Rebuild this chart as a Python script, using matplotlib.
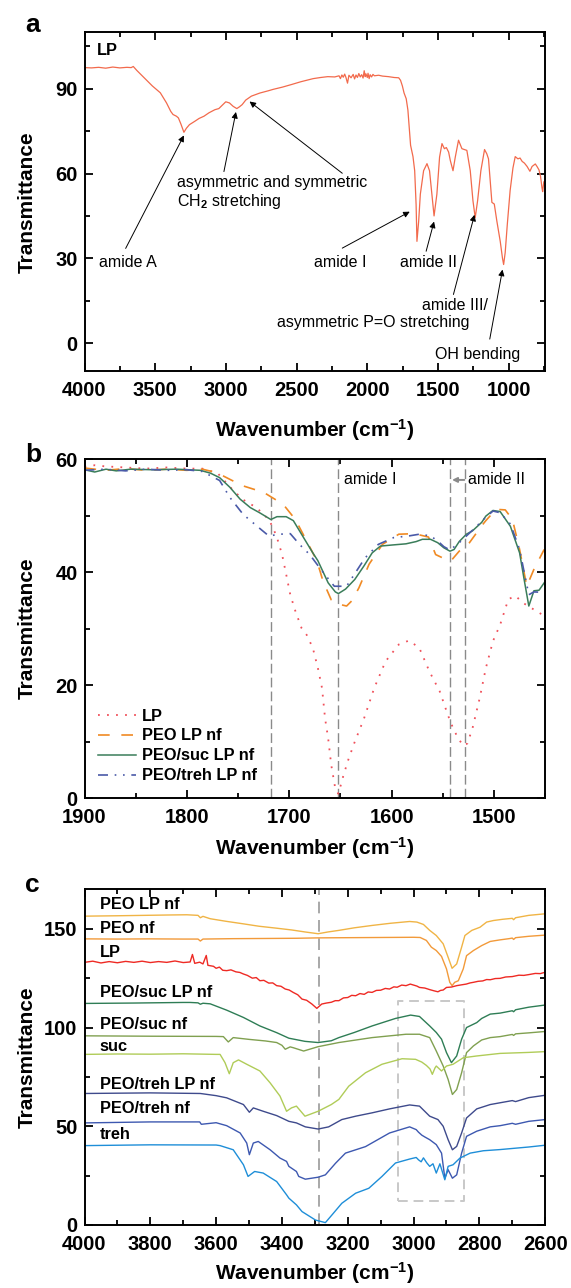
import matplotlib
matplotlib.use('Agg')
import matplotlib.pyplot as plt
from matplotlib.ticker import MultipleLocator

plt.rcParams['font.family'] = ['Liberation Sans', 'DejaVu Sans']
plt.rcParams['font.weight'] = 'bold'
plt.rcParams['mathtext.fontset'] = 'custom'
plt.rcParams['mathtext.rm'] = 'Liberation Sans'
plt.rcParams['mathtext.bf'] = 'Liberation Sans:bold'
plt.rcParams['mathtext.it'] = 'Liberation Sans:italic'

# ---------------- Panel a data: LP full spectrum ----------------
a_wn = [4000, 3950, 3900, 3850, 3800, 3750, 3700, 3670, 3655, 3630, 3600, 3567, 3520, 3464, 3420,
        3390, 3374, 3350, 3336, 3318, 3297, 3280, 3258, 3220, 3190, 3155, 3120, 3078, 3050, 3030,
        3001, 2975, 2949, 2923, 2905, 2885, 2860, 2820, 2760, 2700, 2666, 2600, 2537, 2470, 2383,
        2330, 2280, 2230, 2200, 2190, 2180, 2170, 2160, 2151, 2140, 2130, 2115, 2100, 2090, 2080,
        2070, 2060, 2050, 2040, 2030, 2022, 2015, 2010, 2000, 1995, 1987, 1980, 1970, 1960, 1950,
        1920, 1893, 1850, 1810, 1778, 1765, 1752, 1740, 1725, 1713, 1694, 1677, 1665,
        1655, 1649, 1637, 1625, 1602, 1578, 1560, 1543, 1528, 1508, 1489, 1472, 1455, 1441, 1425,
        1413, 1394, 1378, 1355, 1331, 1296, 1272, 1253, 1237, 1220, 1197, 1171, 1155, 1143, 1131,
        1119, 1102, 1084, 1060, 1044, 1036, 1025, 1010, 990, 970, 954, 935, 920, 905, 889, 870,
        850, 835, 812, 800, 786, 775, 765, 760, 752, 742]
a_t = [97.5, 97.4, 97.6, 97.3, 97.7, 97.4, 97.6, 97.5, 97.9, 96.5, 95.0, 93.3, 91.0, 88.6, 85.0,
       82.0, 80.9, 80.3, 79.7, 77.5, 74.6, 76.0, 77.3, 78.5, 79.5, 80.3, 81.5, 82.6, 83.0, 84.0,
       85.4, 85.0, 83.8, 83.0, 83.6, 84.4, 86.0, 87.4, 88.5, 89.3, 89.8, 90.6, 91.5, 92.5, 93.6,
       94.0, 94.3, 94.2, 94.6, 93.6, 94.9, 94.1, 95.2, 94.0, 92.0, 94.8, 93.9, 95.1, 93.5, 94.9,
       94.0, 95.4, 94.2, 95.0, 93.8, 96.4, 94.3, 95.3, 94.0, 95.5, 93.6, 95.0, 94.2, 95.1, 94.6,
       94.8, 94.5, 94.3, 94.0, 93.9, 93.0, 91.0, 88.5, 86.5, 82.5, 70.0, 66.0, 61.0,
       49.0, 36.0, 43.0, 52.7, 61.0, 63.5, 61.0, 52.7, 45.0, 52.7, 65.8, 70.6, 68.8, 69.2, 67.6,
       64.6, 61.0, 65.8, 71.8, 68.8, 68.2, 61.0, 50.4, 44.4, 50.4, 61.0, 68.5, 67.0, 65.2, 57.5,
       49.8, 49.2, 43.2, 36.0, 30.0, 27.8, 32.0, 42.0, 54.0, 62.0, 66.0, 65.2, 65.5, 64.3, 63.7, 62.5,
       60.8, 62.5, 63.4, 62.5, 61.3, 59.0, 55.0, 53.6, 57.0, 57.7]

# ---------------- Panel b data: amide region ----------------
b_lp_wn = [1900, 1890, 1880, 1860, 1840, 1820, 1800, 1785, 1770, 1755, 1745, 1732, 1720, 1716, 1712,
           1707, 1703, 1699, 1694, 1688, 1683, 1677, 1672, 1668, 1665, 1662, 1659, 1655, 1652, 1647,
           1642, 1636, 1627, 1617, 1606, 1593, 1583, 1573, 1563, 1553, 1545, 1540, 1535, 1530, 1526,
           1521, 1514, 1508, 1501, 1494, 1486, 1479, 1472, 1464, 1454, 1451]
b_lp_t = [58.6, 58.9, 58.7, 58.5, 58.3, 58.5, 58.3, 58.3, 57.5, 54.5, 52.8, 51.4, 49.3, 47.9, 46.1,
          43.1, 39.6, 36.0, 33.1, 30.1, 28.9, 26.6, 23.0, 19.5, 14.1, 10.6, 5.9, 1.7, 0.8, 4.1,
          7.0, 10.0, 14.1, 19.5, 24.2, 27.2, 27.9, 26.6, 22.4, 18.9, 14.7, 12.4, 10.6, 9.3, 9.7,
          12.4, 17.7, 23.0, 27.8, 30.7, 35.2, 35.8, 34.6, 33.7, 32.6, 32.3]

b_peo_wn = [1900, 1880, 1860, 1840, 1820, 1800, 1785, 1771, 1746, 1725, 1706, 1694, 1683, 1673, 1667,
            1659, 1651, 1644, 1639, 1632, 1622, 1609, 1593, 1578, 1564, 1557, 1550, 1542, 1534, 1524,
            1512, 1508, 1498, 1489, 1482, 1475, 1468, 1461, 1451]
b_peo_t = [58.4, 58.0, 58.3, 58.0, 58.2, 58.0, 58.2, 57.6, 55.3, 54.1, 52.0, 49.3, 45.5, 42.0, 38.4,
           35.1, 34.3, 34.0, 34.9, 37.2, 41.4, 44.9, 46.7, 46.8, 46.2, 43.1, 42.5, 42.0, 43.7, 45.2,
           48.2, 49.1, 51.1, 51.0, 49.3, 44.0, 37.5, 40.5, 44.0]

b_suc_wn = [1900, 1890, 1879, 1869, 1855, 1833, 1810, 1787, 1777, 1768, 1758, 1748, 1738, 1729, 1718,
            1712, 1703, 1696, 1686, 1677, 1672, 1662, 1655, 1652, 1645, 1636, 1627, 1619, 1611, 1599,
            1586, 1576, 1570, 1562, 1555, 1549, 1543, 1539, 1534, 1527, 1521, 1512, 1508, 1501, 1494,
            1484, 1475, 1470, 1466, 1461, 1456, 1451]
b_suc_t = [58.1, 57.7, 58.2, 57.9, 58.2, 58.1, 58.2, 58.0, 57.5, 56.7, 55.0, 52.9, 51.4, 50.5, 49.3,
           49.8, 49.8, 49.1, 46.1, 43.4, 42.0, 38.1, 36.5, 36.2, 37.0, 38.7, 41.1, 43.4, 44.6, 44.8,
           45.0, 45.4, 45.8, 45.8, 45.2, 44.3, 43.7, 44.0, 45.4, 46.7, 47.3, 48.8, 49.9, 50.9, 50.7,
           48.1, 43.4, 38.1, 34.0, 36.7, 36.8, 38.1]

b_treh_wn = [1900, 1880, 1860, 1840, 1820, 1800, 1785, 1768, 1758, 1745, 1732, 1720, 1709, 1699, 1690,
             1680, 1668, 1656, 1644, 1626, 1613, 1598, 1583, 1573, 1562, 1555, 1549, 1543, 1534, 1521,
             1508, 1501, 1494, 1484, 1475, 1470, 1466, 1461, 1451]
b_treh_t = [58.0, 58.2, 57.9, 58.2, 58.0, 58.1, 57.8, 56.2, 53.2, 50.2, 48.2, 46.4, 46.7, 46.8, 44.9,
            43.1, 40.2, 37.5, 37.5, 42.5, 44.9, 46.1, 46.4, 46.7, 46.4, 45.5, 44.5, 43.9, 45.2, 47.4,
            49.7, 50.8, 50.5, 48.5, 44.0, 39.5, 36.0, 36.5, 36.4]

b_vlines = [1718, 1652, 1543, 1528]
b_labels = ['LP', 'PEO LP nf', 'PEO/suc LP nf', 'PEO/treh LP nf']

# ---------------- Panel c data: 4000-2600 region (offset spectra) ----------------
c_peolp_wn = [4000, 3900, 3820, 3740, 3689, 3655, 3648, 3640, 3618, 3570, 3517, 3470, 3416, 3370, 3330,
              3290, 3260, 3227, 3180, 3126, 3070, 3012, 2990, 2970, 2951, 2931, 2910, 2895, 2883, 2869,
              2854, 2844, 2823, 2798, 2778, 2757, 2730, 2700, 2696, 2690, 2650, 2600]
c_peolp_t = [156.4, 156.6, 156.8, 157.0, 157.1, 156.8, 155.6, 156.3, 155.1, 153.8, 152.5, 151.3, 150.3,
             149.4, 148.4, 147.5, 148.4, 149.2, 150.5, 151.7, 152.8, 153.7, 153.4, 152.2, 149.2, 146.6,
             142.4, 135.6, 130.0, 132.2, 140.7, 146.6, 149.2, 150.8, 153.4, 154.2, 154.8, 155.3, 154.6,
             155.6, 156.8, 157.6]

c_peo_wn = [4000, 3900, 3800, 3700, 3655, 3648, 3640, 3550, 3450, 3356, 3290, 3200, 3100, 3000, 2980,
            2961, 2946, 2931, 2915, 2900, 2890, 2883, 2875, 2864, 2849, 2839, 2818, 2793, 2767, 2737,
            2710, 2700, 2696, 2690, 2650, 2600]
c_peo_t = [144.9, 144.8, 144.9, 144.8, 144.8, 143.8, 144.8, 145.0, 145.1, 145.2, 145.4, 145.5, 145.6,
           145.7, 145.6, 144.1, 140.7, 139.0, 136.0, 129.7, 122.9, 121.2, 122.9, 123.7, 129.7, 136.4,
           139.0, 141.5, 143.6, 144.4, 145.0, 145.3, 144.6, 145.5, 146.2, 146.8]

c_lp_wn = [4000, 3975, 3950, 3925, 3900, 3875, 3850, 3825, 3800, 3775, 3750, 3725, 3700, 3679, 3672,
           3665, 3650, 3640, 3630, 3625, 3618, 3608, 3600, 3590, 3580, 3568, 3555, 3540, 3528, 3517,
           3505, 3490, 3478, 3467, 3455, 3440, 3428, 3416, 3403, 3390, 3378, 3366, 3352, 3339, 3325,
           3309, 3294, 3279, 3265, 3250, 3238, 3227, 3213, 3200, 3188, 3176, 3163, 3150, 3138, 3126,
           3113, 3100, 3086, 3073, 3060, 3050, 3036, 3023, 3010, 3000, 2990, 2982, 2966, 2951, 2938,
           2926, 2918, 2910, 2900, 2885, 2869, 2855, 2840, 2828, 2818, 2804, 2790, 2778, 2767, 2752,
           2737, 2720, 2700, 2680, 2665, 2650, 2630, 2615, 2600]
c_lp_t = [133.0, 133.6, 132.7, 133.4, 132.8, 133.5, 133.0, 133.6, 132.9, 133.4, 133.0, 133.7, 132.9,
          133.2, 137.0, 132.5, 133.1, 132.2, 136.5, 131.5, 131.3, 131.0, 130.0, 130.6, 129.0, 128.8,
          129.2, 128.2, 127.9, 127.1, 126.4, 125.0, 125.3, 123.7, 123.9, 122.5, 122.6, 121.2, 120.9,
          119.5, 119.0, 117.8, 116.6, 114.4, 113.8, 111.9, 109.7, 111.9, 112.4, 112.8, 113.6, 113.6,
          115.0, 115.2, 116.3, 116.1, 117.2, 116.8, 118.0, 117.8, 118.8, 118.9, 119.8, 119.5, 120.6,
          120.4, 121.5, 121.2, 122.0, 121.5, 121.0, 120.3, 120.0, 119.2, 118.6, 118.1, 118.8, 119.0,
          120.3, 120.5, 121.2, 121.6, 122.0, 122.6, 122.9, 123.4, 123.6, 124.3, 124.2, 124.8, 124.9,
          125.6, 125.8, 126.5, 126.4, 126.8, 127.4, 127.3, 128.0]

c_suclp_wn = [4000, 3850, 3700, 3679, 3655, 3648, 3640, 3618, 3568, 3517, 3467, 3416, 3379, 3330, 3290,
              3250, 3227, 3180, 3126, 3055, 3009, 2982, 2951, 2931, 2915, 2900, 2885, 2869, 2854, 2839,
              2808, 2793, 2767, 2737, 2700, 2696, 2690, 2650, 2600]
c_suclp_t = [112.2, 112.4, 112.7, 112.7, 112.5, 111.8, 112.3, 112.0, 108.8, 105.1, 100.8, 97.4, 94.6,
             93.0, 92.4, 93.3, 94.9, 97.5, 100.8, 104.6, 106.3, 105.6, 100.8, 97.5, 94.1, 87.3, 82.2,
             85.6, 94.1, 100.0, 102.5, 104.6, 106.8, 107.3, 108.5, 108.0, 109.0, 110.3, 111.4]

c_suc_nf_wn = [4000, 3800, 3600, 3578, 3563, 3548, 3500, 3450, 3416, 3400, 3390, 3375, 3366, 3334, 3290,
               3227, 3126, 3023, 2982, 2951, 2931, 2910, 2895, 2882, 2869, 2854, 2839, 2818, 2793, 2767,
               2737, 2700, 2696, 2690, 2650, 2600]
c_suc_nf_t = [95.8, 95.6, 95.5, 95.4, 92.7, 94.9, 94.0, 93.2, 92.4, 91.0, 89.0, 90.2, 89.8, 88.1, 90.3,
              92.4, 94.9, 96.6, 96.6, 94.9, 88.1, 80.5, 73.7, 66.1, 68.6, 77.1, 87.3, 90.7, 93.7, 94.9,
              95.4, 96.5, 96.0, 96.8, 97.3, 98.0]

c_suc_wn = [4000, 3900, 3800, 3700, 3600, 3588, 3573, 3560, 3548, 3532, 3507, 3467, 3436, 3406, 3386,
            3371, 3356, 3330, 3290, 3250, 3227, 3197, 3146, 3096, 3035, 2994, 2975, 2961, 2950, 2943,
            2935, 2931, 2915, 2900, 2880, 2849, 2808, 2737, 2650, 2600]
c_suc_t = [86.4, 86.6, 86.5, 86.7, 86.4, 86.4, 82.2, 76.6, 82.2, 83.6, 81.4, 78.0, 72.0, 65.3, 57.6,
           59.3, 60.2, 55.1, 57.6, 61.0, 63.6, 70.3, 77.1, 81.4, 84.2, 83.9, 82.5, 80.8, 79.0, 76.3,
           79.5, 80.5, 78.0, 80.5, 81.4, 84.7, 85.6, 86.9, 87.4, 87.8]

c_trehlp_wn = [4000, 3800, 3648, 3600, 3568, 3517, 3499, 3487, 3457, 3416, 3379, 3356, 3329, 3290, 3258,
               3218, 3176, 3126, 3073, 3012, 2982, 2951, 2926, 2910, 2895, 2882, 2869, 2854, 2839, 2808,
               2767, 2737, 2700, 2690, 2650, 2600]
c_trehlp_t = [66.6, 66.9, 66.6, 65.5, 64.4, 61.0, 57.1, 59.3, 57.6, 55.4, 52.5, 51.7, 49.7, 48.6, 49.7,
              53.4, 55.1, 56.8, 58.8, 60.8, 60.2, 55.1, 53.4, 50.0, 43.2, 38.1, 39.8, 46.6, 54.2, 58.8,
              61.0, 61.9, 63.0, 62.5, 64.5, 65.7]

c_treh_nf_wn = [4000, 3800, 3650, 3645, 3600, 3568, 3527, 3507, 3499, 3487, 3472, 3436, 3406, 3386, 3379,
                3356, 3349, 3329, 3290, 3268, 3237, 3207, 3146, 3073, 3012, 2992, 2985, 2975, 2965, 2951,
                2931, 2915, 2905, 2895, 2882, 2869, 2854, 2839, 2808, 2767, 2737, 2700, 2690, 2650, 2600]
c_treh_nf_t = [51.7, 52.2, 52.2, 51.0, 51.8, 50.3, 46.6, 41.5, 35.6, 41.5, 42.3, 38.1, 33.9, 32.2, 29.7,
               27.1, 24.6, 23.2, 24.2, 25.4, 31.3, 36.4, 39.7, 46.6, 49.7, 48.3, 47.0, 45.5, 44.5, 43.2,
               40.7, 36.4, 23.7, 28.0, 23.7, 25.4, 36.4, 44.9, 47.5, 49.7, 50.3, 51.5, 51.0, 52.5, 53.4]

c_treh_wn = [4000, 3800, 3600, 3588, 3548, 3517, 3503, 3483, 3457, 3416, 3386, 3379, 3356, 3339, 3298,
             3268, 3248, 3218, 3176, 3136, 3096, 3055, 3012, 2992, 2985, 2977, 2970, 2960, 2951, 2941,
             2931, 2920, 2905, 2895, 2880, 2859, 2828, 2788, 2737, 2650, 2600]
c_treh_t = [40.2, 40.6, 40.5, 40.2, 38.1, 30.5, 24.6, 27.1, 26.3, 22.0, 15.3, 13.6, 10.2, 6.8, 2.5,
            1.2, 5.1, 11.0, 16.1, 18.6, 24.6, 31.4, 33.4, 34.2, 33.0, 32.0, 34.0, 31.5, 29.7, 31.0,
            26.3, 31.0, 22.9, 29.7, 30.5, 33.9, 36.4, 37.6, 38.2, 39.5, 40.4]

c_names = ['PEO LP nf', 'PEO nf', 'LP', 'PEO/suc LP nf', 'PEO/suc nf', 'suc',
           'PEO/treh LP nf', 'PEO/treh nf', 'treh']
c_label_y = [162.4, 150.3, 138.1, 117.5, 101.5, 90.3, 71.2, 58.8, 45.8]
c_colors = ['#f0b445', '#f29a3a', '#ee2a24', '#2e7d55', '#80a050', '#b0cc58',
            '#3e4a8c', '#3d58b0', '#1e8ed8']
c_vline = 3286
c_box = (3048, 2847, 12.3, 113.6)

# ---------------- Figure ----------------
W, H = 571, 1288
fig = plt.figure(figsize=(W / 100, H / 100), dpi=100)
AX_L, AX_R = 84.5, 545.2


def add_ax(y0, y1):
    return fig.add_axes([AX_L / W, 1 - y1 / H, (AX_R - AX_L) / W, (y1 - y0) / H])


def style(ax, xmaj, xmin, ymaj, ymin):
    ax.xaxis.set_major_locator(MultipleLocator(xmaj))
    ax.xaxis.set_minor_locator(MultipleLocator(xmin))
    ax.yaxis.set_major_locator(MultipleLocator(ymaj))
    ax.yaxis.set_minor_locator(MultipleLocator(ymin))
    ax.tick_params(which='both', direction='in', top=True, right=True, width=1.3,
                   labelsize=14.5)
    ax.tick_params(axis='x', which='major', pad=7)
    ax.tick_params(axis='y', which='major', pad=5)
    ax.tick_params(which='major', length=6)
    ax.tick_params(which='minor', length=3.5)
    for s in ax.spines.values():
        s.set_linewidth(1.4)


def fig_text(x, y, s, **kw):
    fig.text(x / W, 1 - y / H, s, **kw)


xlabel = r'Wavenumber (cm$^{\mathbf{-1}}$)'
ann_kw = dict(fontsize=11.5, fontweight='normal', va='center')

# ---- panel a ----
axa = add_ax(32.3, 371.3)
axa.plot(a_wn, a_t, color='#f26a4c', lw=0.9)
axa.set_xlim(4000, 742)
axa.set_ylim(-10, 110)
style(axa, 500, 250, 30, 15)
axa.text(3915, 103.4, 'LP', fontsize=11.8, fontweight='bold', va='center', ha='left')

axa.text(3696, 28.4, 'amide A', ha='center', **ann_kw)
axa.text(3343, 56.8, 'asymmetric and symmetric', ha='left', **ann_kw)
axa.text(3343, 50.0, r'CH$_2$ stretching', ha='left', **ann_kw)
axa.text(2190, 28.4, 'amide I', ha='center', **ann_kw)
axa.text(1570, 28.4, 'amide II', ha='center', **ann_kw)
axa.text(1378, 13.4, 'amide III/', ha='center', **ann_kw)
axa.text(1958, 7.3, 'asymmetric P=O stretching', ha='center', **ann_kw)
axa.text(1219, -4.1, 'OH bending', ha='center', **ann_kw)

arrows_a = [((3709, 33.5), (3297, 73.5)),
            ((3014, 60.7), (2929, 81.8)),
            ((2177, 60.1), (2833, 85.5)),
            ((2177, 33.6), (1700, 46.5)),
            ((1584, 32.5), (1528, 43.0)),
            ((1391, 17.2), (1242, 45.4)),
            ((1134, 1.4), (1044, 26.0))]
for tail, head in arrows_a:
    axa.annotate('', xy=head, xytext=tail,
                 arrowprops=dict(arrowstyle='-|>', color='black', lw=0.7,
                                 mutation_scale=9, shrinkA=0, shrinkB=0))

# ---- panel b ----
axb = add_ax(459, 798.3)
for xv in b_vlines:
    axb.axvline(xv, color='#8a8a8a', lw=1.0, ls=(0, (7, 3)))
axb.plot(b_lp_wn, b_lp_t, color='#f0505a', lw=1.3, ls=(0, (1, 4)), label=b_labels[0])
axb.plot(b_peo_wn, b_peo_t, color='#f08a24', lw=1.2, ls=(0, (7, 7)), label=b_labels[1])
axb.plot(b_suc_wn, b_suc_t, color='#3a7d5a', lw=1.1, label=b_labels[2])
axb.plot(b_treh_wn, b_treh_t, color='#4a5aa8', lw=1.2, ls=(0, (6, 4, 1, 4, 1, 4)), label=b_labels[3])
axb.set_xlim(1900, 1450)
axb.set_ylim(0, 60)
style(axb, 100, 50, 20, 10)
axb.text(1647, 56.3, 'amide I', ha='left', **ann_kw)
axb.text(1525, 56.3, 'amide II', ha='left', **ann_kw)
axb.annotate('', xy=(1541, 56.3), xytext=(1529, 56.3),
             arrowprops=dict(arrowstyle='-|>', color='#8a8a8a', lw=1.4,
                             mutation_scale=7, shrinkA=0, shrinkB=0))
axb.legend(loc='lower left', frameon=False, fontsize=11.8, handlelength=2.3,
           handletextpad=0.4, labelspacing=0.3, borderaxespad=0.0,
           bbox_to_anchor=(0.015, 0.025))

# ---- panel c ----
axc = add_ax(889.3, 1225)
axc.axvline(c_vline, color='#9a9a9a', lw=1.2, ls=(0, (7, 4)))
bx0, bx1, by0, by1 = c_box
axc.plot([bx0, bx1, bx1, bx0, bx0], [by0, by0, by1, by1, by0], color='#c8c8c8', lw=1.4,
         ls=(0, (5, 3)))
c_series = [(c_peolp_wn, c_peolp_t), (c_peo_wn, c_peo_t), (c_lp_wn, c_lp_t),
            (c_suclp_wn, c_suclp_t), (c_suc_nf_wn, c_suc_nf_t), (c_suc_wn, c_suc_t),
            (c_trehlp_wn, c_trehlp_t), (c_treh_nf_wn, c_treh_nf_t), (c_treh_wn, c_treh_t)]
for (wn, t), col in zip(c_series, c_colors):
    axc.plot(wn, t, color=col, lw=1.0)
for name, yv in zip(c_names, c_label_y):
    axc.text(3954, yv, name, fontsize=11.8, fontweight='bold', ha='left', va='center')
axc.set_xlim(4000, 2600)
axc.set_ylim(0, 170)
style(axc, 200, 100, 50, 25)

# ---- labels ----
for ycen in [201.8, 628.6, 1057.1]:
    fig_text(27.3, ycen, 'Transmittance', fontsize=15, fontweight='bold', rotation=90,
             ha='center', va='center')
for ylab in [430, 848, 1273]:
    fig_text(315, ylab, xlabel, fontsize=15, fontweight='bold', ha='center', va='center')
for letter, ylet in [('a', 25), ('b', 455), ('c', 885)]:
    fig_text(32.8, ylet, letter, fontsize=19, fontweight='bold', ha='center', va='center')

fig.savefig('out.png', dpi=100)
